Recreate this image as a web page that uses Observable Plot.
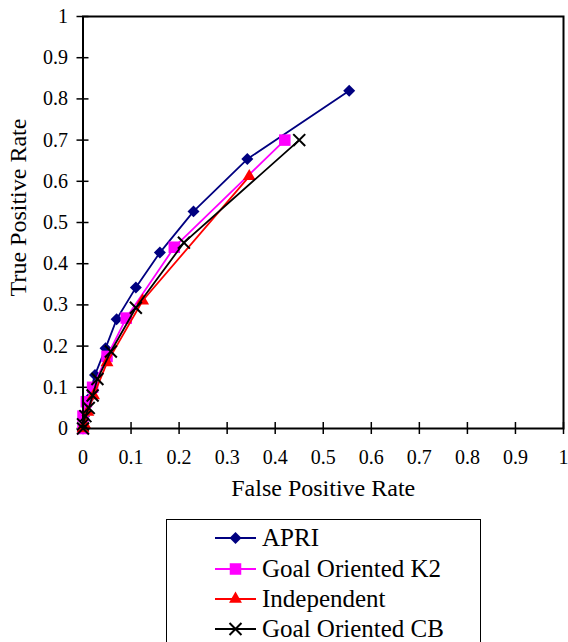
<!DOCTYPE html>
<html><head><meta charset="utf-8">
<script src="https://cdn.jsdelivr.net/npm/d3@7"></script>
<script src="https://cdn.jsdelivr.net/npm/@observablehq/plot@0.6"></script>
<style>
body{margin:0;background:#fff;font-family:'Liberation Serif','Tinos','DejaVu Serif',serif;}
#wrap{position:relative;width:568px;height:642px;overflow:hidden;}
#chart{position:absolute;left:0;top:0;}
#legend{position:absolute;left:166px;top:519px;width:315px;height:140px;border:1.5px solid #000;box-sizing:border-box;background:#fff;}
.row{position:absolute;left:48px;height:28px;line-height:28px;display:flex;align-items:center;font-size:25px;color:#000;white-space:nowrap;}
.row svg{margin-right:6px;flex:none;}
</style></head><body>
<div id="wrap"><div id="chart"></div><div id="legend"></div></div>
<script>
// ---- data ----
const tickValues = [0, 0.1, 0.2, 0.3, 0.4, 0.5, 0.6, 0.7, 0.8, 0.9, 1];
const seriesNames = ["APRI", "Goal Oriented K2", "Independent", "Goal Oriented CB"];

const apriFPR = [0, 0.002, 0.01, 0.025, 0.047, 0.07, 0.11, 0.16, 0.23, 0.342, 0.554];
const apriTPR = [0, 0.03, 0.07, 0.13, 0.195, 0.265, 0.342, 0.427, 0.527, 0.654, 0.82];

const k2FPR = [0, 0, 0.007, 0.02, 0.05, 0.09, 0.19, 0.42];
const k2TPR = [0, 0.03, 0.065, 0.1, 0.175, 0.268, 0.44, 0.70];

const indepFPR = [0, 0.003, 0.01, 0.022, 0.05, 0.124, 0.346];
const indepTPR = [0, 0.01, 0.04, 0.08, 0.16, 0.31, 0.612];

const cbFPR = [0, 0, 0.005, 0.012, 0.02, 0.03, 0.058, 0.11, 0.21, 0.45];
const cbTPR = [0, 0.01, 0.03, 0.05, 0.08, 0.12, 0.187, 0.293, 0.451, 0.70];

// ---- styles ----
const seriesColors = ["#000080", "#ff00ff", "#ff0000", "#000000"];
const seriesSymbols = ["diamond2", "square", "triangle", "times"];
const d3Symbols = [d3.symbolDiamond2, d3.symbolSquare, d3.symbolTriangle, d3.symbolTimes];
const seriesR = [5.4, 6.5, 4.8, 5.5];
const seriesFilled = [true, true, true, false];

const seriesX = [apriFPR, k2FPR, indepFPR, cbFPR];
const seriesY = [apriTPR, k2TPR, indepTPR, cbTPR];

const fmt = d => (d === 0 ? "0" : d === 1 ? "1" : d3.format(".1f")(d));
const serif = "'Liberation Serif','Tinos','DejaVu Serif',serif";

const marks = [];
seriesNames.forEach((name, s) => {
  const rows = seriesX[s].map((x, i) => ({x, y: seriesY[s][i]}));
  marks.push(Plot.line(rows, {x: "x", y: "y", stroke: seriesColors[s], strokeWidth: 1.8}));
  marks.push(Plot.dot(rows, seriesFilled[s]
    ? {x: "x", y: "y", symbol: () => seriesSymbols[s], r: seriesR[s], fill: seriesColors[s], stroke: "none"}
    : {x: "x", y: "y", symbol: () => seriesSymbols[s], r: seriesR[s], stroke: seriesColors[s], strokeWidth: 2, fill: "none"}));
});

const chart = Plot.plot({
  width: 568,
  height: 510,
  marginLeft: 82.5,
  marginRight: 5,
  marginTop: 16,
  marginBottom: 82,
  style: {fontFamily: serif, background: "#fff", color: "#000"},
  x: {domain: [0, 1]},
  y: {domain: [0, 1]},
  symbol: {type: "identity"},
  marks: [
    Plot.axisX({ticks: tickValues, tickFormat: fmt, tickSize: 12, dy: -6, tickPadding: 15, fontSize: 20, strokeWidth: 1.5, label: null}),
    Plot.axisY({ticks: tickValues, tickFormat: fmt, tickSize: 12, dx: 6, tickPadding: 9, fontSize: 20, strokeWidth: 1.5, label: null}),
    ...marks,
    Plot.frame({stroke: "#000", strokeWidth: 2}),
    Plot.text(["False Positive Rate"], {frameAnchor: "bottom", textAnchor: "middle", lineAnchor: "bottom", dy: 67, fontSize: 24, fill: "#000"}),
    Plot.text(["True Positive Rate"], {frameAnchor: "left", textAnchor: "middle", lineAnchor: "bottom", rotate: -90, dx: -57.5, dy: -15, fontSize: 24, fill: "#000"})
  ]
});
document.getElementById("chart").appendChild(chart);

// ---- legend ----
const legend = d3.select("#legend");
const rowCenters = [18, 48.5, 79, 109];
seriesNames.forEach((name, s) => {
  const row = legend.append("div").attr("class", "row").style("top", (rowCenters[s] - 14) + "px");
  const svg = row.append("svg").attr("width", 41).attr("height", 20);
  svg.append("line").attr("x1", 0).attr("x2", 41).attr("y1", 10).attr("y2", 10)
    .attr("stroke", seriesColors[s]).attr("stroke-width", 1.8);
  const size = Math.PI * seriesR[s] * seriesR[s];
  svg.append("path").attr("transform", "translate(20.5,10)")
    .attr("d", d3.symbol(d3Symbols[s], size)())
    .attr("fill", seriesFilled[s] ? seriesColors[s] : "none")
    .attr("stroke", seriesFilled[s] ? "none" : seriesColors[s])
    .attr("stroke-width", 2);
  row.append("span").text(name);
});
</script>
</body></html>
